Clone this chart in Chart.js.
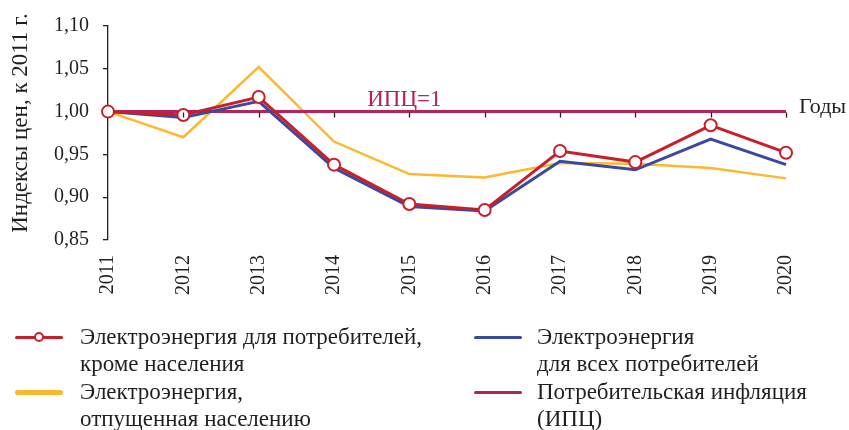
<!DOCTYPE html>
<html>
<head>
<meta charset="utf-8">
<script src="https://cdn.jsdelivr.net/npm/chart.js@4/dist/chart.umd.min.js"></script>
<style>
  html, body { margin: 0; padding: 0; background: #fff; }
  #wrap { position: relative; width: 849px; height: 430px; overflow: hidden; }
  #c { position: absolute; left: 0; top: 0; }
  .lg { position: absolute; font-family: "Liberation Serif", "Times New Roman", serif; font-size: 23px; line-height: 27px; color: #231f20; white-space: nowrap; }
  .sym { position: absolute; }
</style>
</head>
<body>
<div id="wrap">
  <canvas id="c" width="849" height="430"></canvas>
  <div id="legend"></div>
</div>
<script>
// ---- Data ----
const years = ['2011','2012','2013','2014','2015','2016','2017','2018','2019','2020'];
const elNonHousehold = [1.000, 0.996, 1.017, 0.938, 0.892, 0.885, 0.954, 0.941, 0.984, 0.952];
const elAllConsumers = [1.000, 0.993, 1.012, 0.934, 0.889, 0.884, 0.942, 0.932, 0.968, 0.938];
const elHouseholds   = [1.000, 0.970, 1.052, 0.965, 0.927, 0.923, 0.940, 0.939, 0.934, 0.922];
const cpi            = [1, 1, 1, 1, 1, 1, 1, 1, 1, 1];
const yTicks = [0.85, 0.90, 0.95, 1.00, 1.05, 1.10];

const yTitle = 'Индексы цен, к 2011 г.';
const labelNonHousehold = ['Электроэнергия для потребителей,', 'кроме населения'];
const labelAll = ['Электроэнергия', 'для всех потребителей'];
const labelHouse = ['Электроэнергия,', 'отпущенная населению'];
const labelCpi = ['Потребительская инфляция', '(ИПЦ)'];

const RED = '#c8202b', BLUE = '#3a48a2', YELLOW = '#fdb92c', PURPLE = '#b2235f', INK = '#231f20';
const FONT = '"Liberation Serif", "Times New Roman", serif';

const annot = {
  id: 'annot',
  afterDatasetsDraw(chart) {
    const {ctx, scales: {x, y}} = chart;
    ctx.save();
    const y1 = y.getPixelForValue(1);
    // tick marks of the category axis on the 1.00 line
    ctx.strokeStyle = INK;
    ctx.lineWidth = 1.3;
    ctx.beginPath();
    for (let i = 1; i < years.length; i++) {
      const px = Math.round(x.getPixelForValue(i)) + 0.5;
      ctx.moveTo(px, y1 + 1);
      ctx.lineTo(px, y1 + 6);
    }
    ctx.stroke();
    ctx.font = '23px ' + FONT;
    ctx.fillStyle = PURPLE;
    ctx.textAlign = 'center';
    ctx.textBaseline = 'alphabetic';
    ctx.fillText('ИПЦ=1', x.getPixelForValue(4) - 5, y1 - 6);
    ctx.fillStyle = INK;
    ctx.font = '22px ' + FONT;
    ctx.textAlign = 'left';
    ctx.fillText('Годы', x.getPixelForValue(9) + 13, y1 + 1);
    // y axis title
    ctx.font = '23px ' + FONT;
    ctx.translate(21, 123);
    ctx.rotate(-Math.PI / 2);
    ctx.textAlign = 'center';
    ctx.textBaseline = 'middle';
    ctx.fillText(yTitle, 0, 0);
    ctx.restore();
  }
};

const chart = new Chart(document.getElementById('c'), {
  type: 'line',
  data: {
    labels: years,
    datasets: [
      { label: 'Электроэнергия, отпущенная населению', data: elHouseholds, borderColor: YELLOW, borderWidth: 2.5, pointRadius: 0, tension: 0, order: 4 },
      { label: 'Электроэнергия для всех потребителей', data: elAllConsumers, borderColor: BLUE, borderWidth: 3, pointRadius: 0, tension: 0, order: 2 },
      { label: 'Потребительская инфляция (ИПЦ)', data: cpi, borderColor: PURPLE, borderWidth: 3, pointRadius: 0, tension: 0, order: 3 },
      { label: 'Электроэнергия для потребителей, кроме населения', data: elNonHousehold, borderColor: RED, borderWidth: 3, pointRadius: 6, pointBorderWidth: 2, pointBackgroundColor: '#fff', pointBorderColor: RED, tension: 0, order: 1 }
    ]
  },
  options: {
    responsive: false,
    animation: false,
    events: [],
    layout: { padding: { left: 0, right: 63, top: 22, bottom: 0 } },
    plugins: { legend: { display: false }, tooltip: { enabled: false } },
    scales: {
      x: {
        type: 'category',
        offset: false,
        grid: { display: false, drawTicks: false },
        border: { display: false },
        ticks: { minRotation: 90, maxRotation: 90, padding: 15, color: INK, font: { family: FONT, size: 20 } },
        afterFit(s) { s.height = 190; }
      },
      y: {
        min: 0.85, max: 1.10,
        afterBuildTicks(s) { s.ticks = yTicks.map(v => ({ value: v })); },
        grid: { display: true, drawOnChartArea: false, drawTicks: true, tickLength: 5, color: INK, lineWidth: 1.3 },
        border: { display: true, color: INK, width: 1.3 },
        ticks: { padding: 14, color: INK, font: { family: FONT, size: 20 }, callback: v => Number(v).toFixed(2).replace('.', ',') },
        afterFit(s) { s.width = 108; }
      }
    }
  },
  plugins: [annot]
});

// ---- HTML legend ----
const legend = document.getElementById('legend');
function addItem(lines, color, left, top, lw, marker, symLeft, symW) {
  const mid = top + 14;
  const sym = document.createElement('div');
  sym.className = 'sym';
  sym.style.left = symLeft + 'px';
  sym.style.top = (mid - lw / 2) + 'px';
  sym.style.width = symW + 'px';
  sym.style.height = lw + 'px';
  sym.style.background = color;
  sym.style.borderRadius = (lw / 2) + 'px';
  legend.appendChild(sym);
  if (marker) {
    const m = document.createElement('div');
    m.className = 'sym';
    m.style.left = (symLeft + symW / 2 - 5) + 'px';
    m.style.top = (mid - 5) + 'px';
    m.style.width = '6px'; m.style.height = '6px';
    m.style.border = '2px solid ' + color;
    m.style.borderRadius = '50%';
    m.style.background = '#fff';
    legend.appendChild(m);
  }
  const t = document.createElement('div');
  t.className = 'lg';
  t.style.left = left + 'px';
  t.style.top = top + 'px';
  t.innerHTML = lines.join('<br>');
  legend.appendChild(t);
}
addItem(labelNonHousehold, RED, 80, 323, 3, true, 15, 48);
addItem(labelHouse, YELLOW, 80, 378, 5, false, 15, 48);
addItem(labelAll, BLUE, 537, 323, 3, false, 474, 48);
addItem(labelCpi, PURPLE, 537, 378, 3, false, 474, 48);
</script>
</body>
</html>
